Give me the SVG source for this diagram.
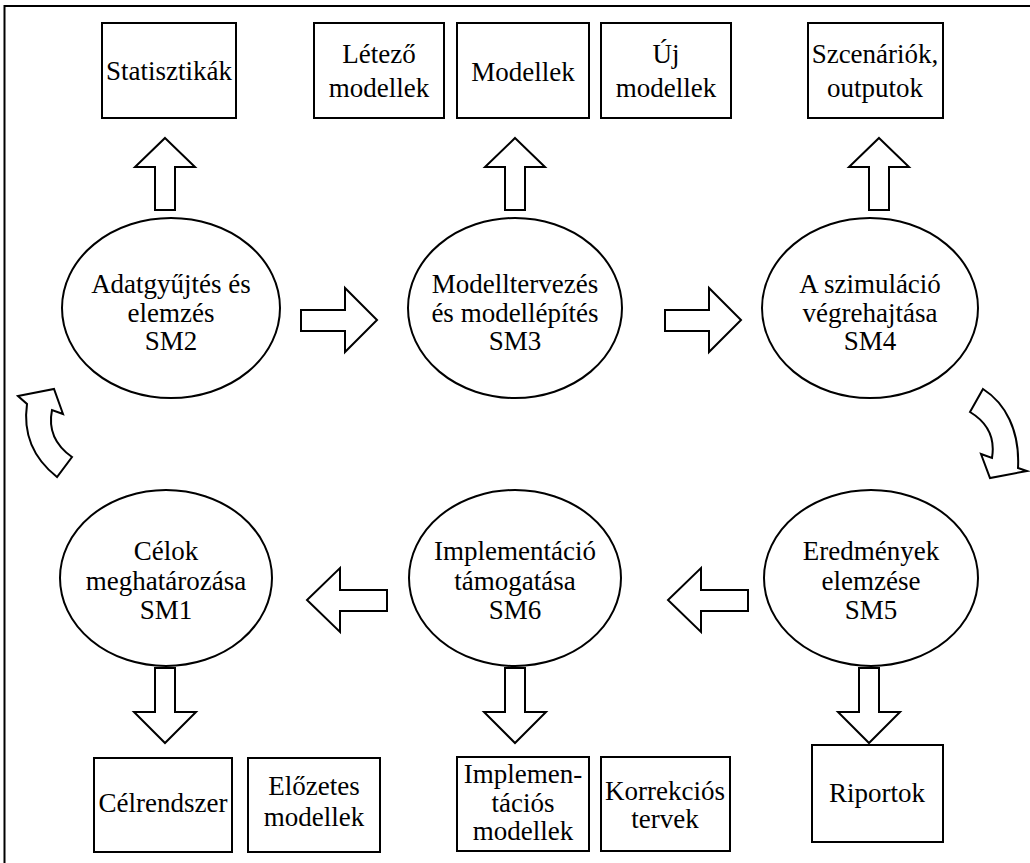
<svg xmlns="http://www.w3.org/2000/svg" width="1030" height="863" viewBox="0 0 1030 863">
<style>
.box{fill:#fff;stroke:#000;stroke-width:2}
.node{fill:#fff;stroke:#000;stroke-width:2}
.arr{fill:#fff;stroke:#000;stroke-width:2;stroke-linejoin:miter}
.t{font-family:'Liberation Serif','Times New Roman','DejaVu Serif',serif;font-size:27px;fill:#000;text-anchor:middle}
</style>
<rect x="0" y="0" width="1030" height="863" fill="#fff"/>
<path d="M4.5,863 V6 H1030" fill="none" stroke="#000" stroke-width="2"/>

<g id="connectors">
  <polygon class="arr" points="165,138 195,167 175,167 175,210 155,210 155,167 135,167"/>
  <polygon class="arr" points="515,138 545,167 525,167 525,210 505,210 505,167 485,167"/>
  <polygon class="arr" points="879,138 909,167 889,167 889,210 869,210 869,167 849,167"/>
  <polygon class="arr" points="301,310 345,310 345,288 377,320 345,352 345,331 301,331"/>
  <polygon class="arr" points="665,310 709,310 709,288 741,320 709,352 709,331 665,331"/>
  <polygon class="arr" points="387,590 340,590 340,568 307,600 340,632 340,611 387,611"/>
  <polygon class="arr" points="748,590 701,590 701,568 668,600 701,632 701,611 748,611"/>
  <polygon class="arr" points="155,668 175,668 175,712 196,712 165,743 134,712 155,712"/>
  <polygon class="arr" points="505,668 525,668 525,712 546,712 515,743 484,712 505,712"/>
  <polygon class="arr" points="859,668 879,668 879,712 900,712 869,743 838,712 859,712"/>
  <path class="arr" d="M18,396 L54,389 L63,414 L52,410 C49,425 52,443 72,457 L57,477 C38,462 22,440 27,404 Z"/>
  <path class="arr" d="M970,412 L983,389 C1005,403 1020,430 1018,468 L1027,471 L990,478 L981,454 L992,458 C995,440 990,424 970,412 Z"/>
</g>

<g class="t" font-family="Liberation Serif, Times New Roman, DejaVu Serif, serif" font-size="27" text-anchor="middle">
<g id="box-statisztikak"><rect class="box" x="102" y="23" width="134" height="95"/><text x="169" y="80">Statisztikák</text></g>
<g id="box-letezo"><rect class="box" x="314" y="23" width="130" height="95"/><text x="379" y="63">Létező</text><text x="379" y="97">modellek</text></g>
<g id="box-modellek"><rect class="box" x="457" y="23" width="132" height="95"/><text x="523" y="81">Modellek</text></g>
<g id="box-uj"><rect class="box" x="601" y="23" width="130" height="95"/><text x="666" y="63">Új</text><text x="666" y="97">modellek</text></g>
<g id="box-szcenariok"><rect class="box" x="808" y="23" width="135" height="95"/><text x="875" y="63">Szcenáriók,</text><text x="875" y="97">outputok</text></g>

<g id="SM2"><ellipse class="node" cx="171" cy="308" rx="109" ry="90"/><text x="171" y="293">Adatgyűjtés és</text><text x="171" y="322">elemzés</text><text x="171" y="350">SM2</text></g>
<g id="SM3"><ellipse class="node" cx="515" cy="308" rx="107" ry="90"/><text x="515" y="293">Modelltervezés</text><text x="515" y="322">és modellépítés</text><text x="515" y="350">SM3</text></g>
<g id="SM4"><ellipse class="node" cx="870" cy="308" rx="108" ry="90"/><text x="870" y="293">A szimuláció</text><text x="870" y="322">végrehajtása</text><text x="870" y="350">SM4</text></g>
<g id="SM1"><ellipse class="node" cx="166" cy="578" rx="106" ry="88"/><text x="166" y="560">Célok</text><text x="166" y="590">meghatározása</text><text x="166" y="619">SM1</text></g>
<g id="SM6"><ellipse class="node" cx="515" cy="578" rx="106" ry="88"/><text x="515" y="560">Implementáció</text><text x="515" y="590">támogatása</text><text x="515" y="619">SM6</text></g>
<g id="SM5"><ellipse class="node" cx="871" cy="578" rx="107" ry="88"/><text x="871" y="560">Eredmények</text><text x="871" y="590">elemzése</text><text x="871" y="619">SM5</text></g>

<g id="box-celrendszer"><rect class="box" x="94" y="758" width="138" height="94"/><text x="163" y="812">Célrendszer</text></g>
<g id="box-elozetes"><rect class="box" x="248" y="758" width="132" height="94"/><text x="314" y="795">Előzetes</text><text x="314" y="826">modellek</text></g>
<g id="box-implementacios"><rect class="box" x="457" y="757" width="132" height="94"/><text x="523" y="783">Implemen-</text><text x="523" y="812">tációs</text><text x="523" y="840">modellek</text></g>
<g id="box-korrekcios"><rect class="box" x="601" y="757" width="129" height="94"/><text x="665" y="800">Korrekciós</text><text x="665" y="828">tervek</text></g>
<g id="box-riportok"><rect class="box" x="812" y="745" width="131" height="97"/><text x="877" y="802">Riportok</text></g>
</g>
</svg>
